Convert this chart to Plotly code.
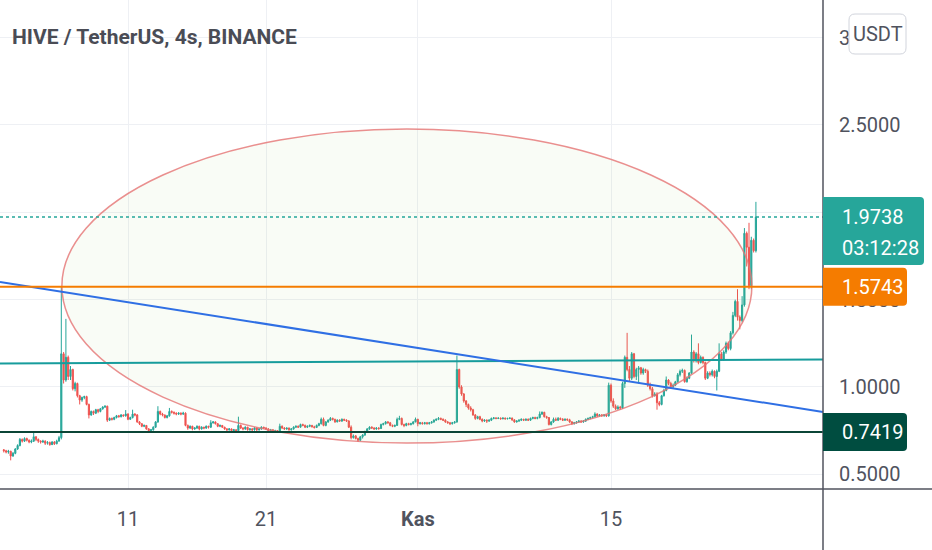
import pandas as pd
import plotly.graph_objects as go

# 4 saatlik mumlar (HIVE/USDT), ilk mum 2 Ekim 00:00
bar_start = "2021-10-02 00:00"
first_open = 0.640

closes = [
    0.635, 0.628, 0.632, 0.605, 0.620, 0.645,  # Eki 2
    0.665, 0.700, 0.690, 0.705, 0.695, 0.685,
    0.690, 0.715, 0.700, 0.690, 0.685, 0.690,
    0.678, 0.682, 0.670, 0.685, 0.675, 0.690,
    0.710, 1.190, 1.040, 1.170, 1.060, 1.100,  # Eki 6
    0.990, 1.020, 0.950, 0.925, 0.940, 0.945,
    0.900, 0.840, 0.860, 0.850, 0.870, 0.860,
    0.875, 0.885, 0.890, 0.810, 0.820, 0.815,
    0.825, 0.835, 0.830, 0.840, 0.835, 0.845,
    0.815, 0.825, 0.845, 0.840, 0.800, 0.790,  # Eki 11
    0.775, 0.780, 0.760, 0.750, 0.755, 0.770,
    0.800, 0.860, 0.845, 0.840, 0.825, 0.835,
    0.860, 0.855, 0.850, 0.845, 0.850, 0.845,
    0.850, 0.780, 0.765, 0.775, 0.760, 0.765,
    0.775, 0.760, 0.770, 0.765, 0.775, 0.770,  # Eki 16
    0.795, 0.800, 0.790, 0.775, 0.780, 0.770,
    0.760, 0.755, 0.760, 0.750, 0.755, 0.750,
    0.780, 0.765, 0.760, 0.770, 0.755, 0.760,
    0.755, 0.765, 0.755, 0.760, 0.770, 0.765,
    0.760, 0.750, 0.755, 0.745, 0.750, 0.745,  # Eki 21
    0.775, 0.765, 0.760, 0.765, 0.755, 0.760,
    0.770, 0.775, 0.770, 0.785, 0.780, 0.770,
    0.775, 0.780, 0.772, 0.768, 0.780, 0.790,
    0.815, 0.780, 0.800, 0.810, 0.820, 0.815,
    0.800, 0.810, 0.805, 0.815, 0.810, 0.805,  # Eki 26
    0.770, 0.710, 0.720, 0.705, 0.695, 0.715,
    0.725, 0.745, 0.760, 0.770, 0.765, 0.760,
    0.765, 0.762, 0.785, 0.790, 0.800, 0.795,
    0.780, 0.775, 0.780, 0.815, 0.820, 0.785,
    0.780, 0.790, 0.785, 0.790, 0.800, 0.815,  # Eki 31
    0.790, 0.795, 0.790, 0.795, 0.790, 0.795,  # Kas 1
    0.800, 0.810, 0.815, 0.820, 0.815, 0.810,
    0.800, 0.795, 0.790, 0.795, 0.800, 1.100,
    1.000, 0.960, 0.920, 0.900, 0.880, 0.870,
    0.840, 0.820, 0.830, 0.815, 0.805, 0.810,  # Kas 5
    0.805, 0.810, 0.820, 0.823, 0.820, 0.822,
    0.818, 0.822, 0.818, 0.820, 0.822, 0.812,
    0.800, 0.805, 0.810, 0.815, 0.810, 0.815,
    0.810, 0.820, 0.825, 0.820, 0.825, 0.845,
    0.855, 0.830, 0.825, 0.785, 0.800, 0.815,  # Kas 10
    0.810, 0.820, 0.815, 0.810, 0.815, 0.812,
    0.800, 0.790, 0.795, 0.800, 0.805, 0.800,
    0.805, 0.815, 0.820, 0.825, 0.830, 0.845,
    0.835, 0.840, 0.835, 0.840, 0.835, 1.010,
    0.920, 0.890, 0.875, 0.885, 0.880, 1.020,  # Kas 15
    1.170, 1.100, 1.050, 1.190, 1.060, 1.100,
    1.110, 1.080, 1.100, 1.090, 1.010, 0.990,
    0.950, 0.960, 0.910, 0.900, 0.950, 0.980,
    1.040, 1.020, 1.000, 1.010, 1.030, 1.070,
    1.090, 1.095, 1.030, 1.050, 1.080, 1.200,  # Kas 20
    1.150, 1.190, 1.140, 1.170, 1.140, 1.050,
    1.080, 1.070, 1.090, 1.060, 1.090, 1.190,
    1.160, 1.200, 1.250, 1.220, 1.310, 1.410,
    1.490, 1.400, 1.380, 1.470, 1.880, 1.800,
    1.580, 1.840, 1.780, 1.9738,               # Kas 25
]

highs = [
    0.645, 0.640, 0.640, 0.635, 0.628, 0.650,
    0.672, 0.708, 0.705, 0.712, 0.710, 0.700,
    0.700, 0.742, 0.718, 0.705, 0.695, 0.698,
    0.695, 0.690, 0.688, 0.690, 0.690, 0.698,
    0.720, 1.575, 1.200, 1.390, 1.180, 1.120,
    1.105, 1.030, 1.025, 0.955, 0.945, 0.950,
    0.950, 0.905, 0.865, 0.865, 0.875, 0.875,
    0.880, 0.890, 0.895, 0.893, 0.825, 0.825,
    0.830, 0.840, 0.840, 0.845, 0.842, 0.868,
    0.850, 0.830, 0.870, 0.850, 0.845, 0.805,
    0.792, 0.785, 0.782, 0.765, 0.760, 0.775,
    0.805, 0.890, 0.865, 0.852, 0.842, 0.840,
    0.880, 0.866, 0.860, 0.855, 0.856, 0.855,
    0.858, 0.855, 0.785, 0.780, 0.778, 0.770,
    0.780, 0.778, 0.775, 0.772, 0.780, 0.778,
    0.810, 0.805, 0.803, 0.792, 0.785, 0.782,
    0.772, 0.765, 0.765, 0.762, 0.760, 0.758,
    0.830, 0.785, 0.770, 0.775, 0.772, 0.765,
    0.765, 0.770, 0.768, 0.765, 0.775, 0.772,
    0.770, 0.765, 0.760, 0.758, 0.755, 0.752,
    0.790, 0.780, 0.770, 0.768, 0.768, 0.765,
    0.775, 0.780, 0.780, 0.790, 0.790, 0.785,
    0.780, 0.785, 0.783, 0.778, 0.785, 0.795,
    0.825, 0.825, 0.805, 0.815, 0.828, 0.825,
    0.818, 0.815, 0.815, 0.820, 0.818, 0.815,
    0.810, 0.780, 0.728, 0.725, 0.710, 0.720,
    0.730, 0.750, 0.765, 0.775, 0.775, 0.770,
    0.770, 0.770, 0.790, 0.795, 0.805, 0.805,
    0.800, 0.785, 0.785, 0.825, 0.835, 0.825,
    0.790, 0.795, 0.795, 0.795, 0.805, 0.825,
    0.818, 0.800, 0.800, 0.800, 0.800, 0.800,
    0.805, 0.815, 0.820, 0.828, 0.825, 0.820,
    0.815, 0.805, 0.800, 0.800, 0.805, 1.180,
    1.105, 1.010, 0.965, 0.925, 0.905, 0.890,
    0.875, 0.845, 0.835, 0.835, 0.820, 0.815,
    0.815, 0.815, 0.825, 0.828, 0.826, 0.826,
    0.825, 0.826, 0.825, 0.824, 0.826, 0.825,
    0.815, 0.810, 0.815, 0.820, 0.818, 0.820,
    0.820, 0.825, 0.830, 0.830, 0.830, 0.860,
    0.860, 0.858, 0.835, 0.828, 0.805, 0.825,
    0.825, 0.828, 0.825, 0.822, 0.820, 0.820,
    0.818, 0.805, 0.800, 0.805, 0.810, 0.810,
    0.810, 0.820, 0.825, 0.830, 0.835, 0.855,
    0.850, 0.845, 0.845, 0.845, 0.845, 1.025,
    1.020, 0.935, 0.900, 0.895, 0.892, 1.030,
    1.180, 1.310, 1.120, 1.200, 1.195, 1.110,
    1.120, 1.115, 1.110, 1.105, 1.100, 1.025,
    1.000, 0.970, 0.970, 0.920, 0.955, 0.990,
    1.060, 1.045, 1.030, 1.020, 1.035, 1.080,
    1.100, 1.105, 1.100, 1.060, 1.085, 1.300,
    1.210, 1.200, 1.250, 1.180, 1.175, 1.145,
    1.090, 1.090, 1.100, 1.095, 1.100, 1.250,
    1.200, 1.210, 1.260, 1.260, 1.320, 1.430,
    1.500, 1.560, 1.410, 1.520, 1.910, 1.890,
    1.940, 1.860, 1.850, 2.060,
]

lows = [
    0.625, 0.620, 0.618, 0.580, 0.600, 0.615,
    0.640, 0.660, 0.682, 0.685, 0.688, 0.678,
    0.678, 0.685, 0.690, 0.680, 0.676, 0.680,
    0.668, 0.670, 0.664, 0.668, 0.668, 0.672,
    0.688, 0.700, 1.020, 1.030, 1.040, 1.040,
    0.980, 0.975, 0.940, 0.900, 0.915, 0.930,
    0.895, 0.820, 0.835, 0.840, 0.845, 0.850,
    0.855, 0.870, 0.880, 0.800, 0.805, 0.808,
    0.810, 0.820, 0.825, 0.826, 0.830, 0.830,
    0.810, 0.812, 0.820, 0.832, 0.795, 0.782,
    0.770, 0.770, 0.755, 0.740, 0.745, 0.750,
    0.765, 0.795, 0.838, 0.832, 0.820, 0.820,
    0.830, 0.848, 0.842, 0.838, 0.840, 0.838,
    0.840, 0.775, 0.755, 0.760, 0.752, 0.755,
    0.760, 0.752, 0.756, 0.758, 0.760, 0.762,
    0.765, 0.790, 0.785, 0.770, 0.770, 0.765,
    0.755, 0.748, 0.750, 0.745, 0.745, 0.737,
    0.745, 0.760, 0.752, 0.755, 0.750, 0.750,
    0.748, 0.750, 0.748, 0.750, 0.755, 0.760,
    0.755, 0.745, 0.745, 0.738, 0.740, 0.737,
    0.740, 0.760, 0.755, 0.755, 0.750, 0.750,
    0.755, 0.765, 0.765, 0.768, 0.775, 0.765,
    0.765, 0.770, 0.768, 0.762, 0.765, 0.775,
    0.785, 0.775, 0.775, 0.795, 0.805, 0.808,
    0.795, 0.798, 0.800, 0.800, 0.805, 0.800,
    0.765, 0.700, 0.705, 0.700, 0.685, 0.690,
    0.705, 0.720, 0.740, 0.755, 0.760, 0.755,
    0.755, 0.755, 0.760, 0.780, 0.785, 0.790,
    0.775, 0.770, 0.770, 0.778, 0.810, 0.780,
    0.770, 0.775, 0.780, 0.780, 0.785, 0.798,
    0.775, 0.785, 0.785, 0.785, 0.785, 0.785,
    0.790, 0.795, 0.805, 0.810, 0.810, 0.805,
    0.795, 0.790, 0.782, 0.785, 0.790, 0.795,
    0.990, 0.950, 0.910, 0.885, 0.870, 0.860,
    0.835, 0.812, 0.815, 0.810, 0.798, 0.800,
    0.794, 0.800, 0.805, 0.815, 0.815, 0.816,
    0.813, 0.815, 0.813, 0.814, 0.816, 0.806,
    0.795, 0.796, 0.800, 0.805, 0.805, 0.806,
    0.805, 0.806, 0.815, 0.815, 0.815, 0.820,
    0.840, 0.825, 0.818, 0.780, 0.780, 0.795,
    0.805, 0.805, 0.810, 0.805, 0.806, 0.806,
    0.795, 0.782, 0.785, 0.790, 0.795, 0.795,
    0.795, 0.800, 0.810, 0.815, 0.820, 0.825,
    0.828, 0.830, 0.830, 0.830, 0.828, 0.830,
    0.910, 0.880, 0.868, 0.870, 0.870, 0.875,
    0.995, 1.090, 1.030, 1.040, 1.050, 1.040,
    1.020, 1.070, 1.070, 1.080, 1.000, 0.980,
    0.940, 0.945, 0.870, 0.890, 0.895, 0.945,
    0.975, 1.010, 0.990, 0.995, 1.005, 1.025,
    1.060, 1.080, 1.025, 1.025, 1.045, 1.075,
    1.140, 1.140, 1.130, 1.135, 1.130, 1.040,
    1.045, 1.060, 1.060, 1.050, 0.980, 1.085,
    1.150, 1.150, 1.190, 1.210, 1.210, 1.300,
    1.400, 1.380, 1.330, 1.370, 1.460, 1.690,
    1.560, 1.560, 1.770, 1.770,
]

# cizimler (TradingView araclari)
last_price = 1.9738
countdown = "03:12:28"
resistance_level = 1.5743
support_level = 0.7419
channel_line = [1.135, 1.157]      # sol uc, sag uc
trend_line = [1.601, 0.857]        # sol uc, sag uc
ellipse_dates = ["2021-10-06 05:00", "2021-11-25 05:00"]
ellipse_prices = [0.679, 2.477]

price_ticks = [0.5, 1.0, 1.5, 2.0, 2.5, 3.0]
price_labels = ["0.5000", "1.0000", "1.5000", "", "2.5000", "3.0000"]  # 2.0000 etiketin altinda kaliyor
date_ticks = ["2021-10-11", "2021-10-21", "2021-11-01", "2021-11-15"]
date_labels = ["11", "21", "<b>Kas</b>", "15"]
view_range = ["2021-10-01 17:23", "2021-11-30 08:41"]
price_range = [0.416, 3.2156]

W, H = 932, 550
AXIS_X = 823          # fiyat ekseni cizgisi (px)
AXIS_Y = 489          # zaman ekseni cizgisi (px)
FONT = "Roboto, sans-serif"
TEXT_GRAY = "#50535e"
GRID = "#eef0f4"
UP, DOWN = "#26a69a", "#ef5350"

opens = [first_open] + closes[:-1]
times = pd.date_range(bar_start, periods=len(closes), freq="4h")

fig = go.Figure(go.Candlestick(
    x=times, open=opens, high=highs, low=lows, close=closes,
    increasing=dict(line=dict(color=UP, width=1), fillcolor=UP),
    decreasing=dict(line=dict(color=DOWN, width=1), fillcolor=DOWN),
    whiskerwidth=0,
    hoverinfo="skip",
))

ax_x = AXIS_X / W


def label_box(price, top, bottom, width, color, r=4):
    # sag kenari yuvarlatilmis fiyat etiketi, piksel olculu
    path = (f"M0,{top} L{width - r},{top} Q{width},{top} {width},{top - r} "
            f"L{width},{bottom + r} Q{width},{bottom} {width - r},{bottom} L0,{bottom} Z")
    return dict(type="path", path=path, xref="paper", yref="y",
                xsizemode="pixel", xanchor=ax_x, ysizemode="pixel", yanchor=price,
                fillcolor=color, line=dict(width=0), layer="above")


shapes = [
    # elips
    dict(type="circle", xref="x", yref="y",
         x0=ellipse_dates[0], x1=ellipse_dates[1],
         y0=ellipse_prices[0], y1=ellipse_prices[1],
         fillcolor="rgba(139,195,74,0.05)",
         line=dict(color="rgba(229,115,115,0.8)", width=1.5), layer="above"),
    # son fiyat noktali cizgi
    dict(type="line", xref="x domain", yref="y", x0=0, x1=1,
         y0=last_price, y1=last_price, line=dict(color=UP, width=1.5, dash="dot"), layer="above"),
    # kanal cizgisi
    dict(type="line", xref="x domain", yref="y", x0=0, x1=1,
         y0=channel_line[0], y1=channel_line[1], line=dict(color="#179c9c", width=2), layer="above"),
    # trend cizgisi
    dict(type="line", xref="x domain", yref="y", x0=0, x1=1,
         y0=trend_line[0], y1=trend_line[1], line=dict(color="#2f6fe4", width=2), layer="above"),
    # yatay seviyeler
    dict(type="line", xref="x domain", yref="y", x0=0, x1=1,
         y0=resistance_level, y1=resistance_level, line=dict(color="#f57c00", width=2), layer="above"),
    dict(type="line", xref="x domain", yref="y", x0=0, x1=1,
         y0=support_level, y1=support_level, line=dict(color="#0b4536", width=2), layer="above"),
    # eksen cizgileri
    dict(type="line", xref="paper", yref="paper", x0=ax_x, x1=ax_x, y0=0, y1=1,
         line=dict(color=TEXT_GRAY, width=1.5), layer="above"),
    dict(type="line", xref="paper", yref="paper", x0=0, x1=1,
         y0=1 - AXIS_Y / H, y1=1 - AXIS_Y / H, line=dict(color=TEXT_GRAY, width=1.5), layer="above"),
    # fiyat etiketleri
    label_box(last_price, 20, -48, 101, UP),
    label_box(resistance_level, 19, -19, 84, "#f57c00"),
    label_box(support_level, 19, -19, 84, "#004d40"),
    # USDT kutusu
    dict(type="path", xref="paper", yref="paper",
         xsizemode="pixel", xanchor=849 / W, ysizemode="pixel", yanchor=1 - 14 / H,
         path="M6,0 L51,0 Q57,0 57,-6 L57,-34 Q57,-40 51,-40 L6,-40 Q0,-40 0,-34 L0,-6 Q0,0 6,0 Z",
         fillcolor="white", line=dict(color="#d1d4dc", width=1), layer="above"),
]

label_font = dict(family=FONT, size=20, color="white")
annotations = [
    dict(text=f"{last_price:.4f}", x=840 / W, xref="paper", y=last_price, yref="y",
         xanchor="left", yanchor="middle", showarrow=False, font=label_font),
    dict(text=countdown, x=840 / W, xref="paper", y=last_price, yref="y", yshift=-31,
         xanchor="left", yanchor="middle", showarrow=False, font=label_font),
    dict(text=f"{resistance_level:.4f}", x=840 / W, xref="paper", y=resistance_level, yref="y",
         xanchor="left", yanchor="middle", showarrow=False, font=label_font),
    dict(text=f"{support_level:.4f}", x=840 / W, xref="paper", y=support_level, yref="y",
         xanchor="left", yanchor="middle", showarrow=False, font=label_font),
    dict(text="USDT", x=877.5 / W, xref="paper", y=1 - 34 / H, yref="paper",
         xanchor="center", yanchor="middle", showarrow=False,
         font=dict(family=FONT, size=20, color=TEXT_GRAY)),
]

fig.update_layout(
    template="none",
    width=W, height=H,
    margin=dict(l=0, r=0, t=0, b=0),
    paper_bgcolor="white", plot_bgcolor="white",
    showlegend=False, hovermode=False,
    title=dict(text="<b>HIVE / TetherUS, 4s, BINANCE</b>", xref="container", yref="container",
               x=12 / W, y=1 - 37 / H, xanchor="left", yanchor="middle",
               font=dict(family=FONT, size=21, color="#4a4c55")),
    shapes=shapes,
    annotations=annotations,
)

fig.update_xaxes(
    domain=[0, ax_x], range=view_range, type="date",
    rangeslider_visible=False, automargin=False,
    tickvals=date_ticks, ticktext=date_labels, ticks="", ticklabelstandoff=16,
    tickfont=dict(family=FONT, size=20, color=TEXT_GRAY),
    showgrid=True, gridcolor=GRID, gridwidth=1, showline=False, zeroline=False,
)
fig.update_yaxes(
    domain=[1 - AXIS_Y / H, 1], range=price_range, side="right", automargin=False,
    tickvals=price_ticks, ticktext=price_labels, ticks="", ticklabelstandoff=15,
    tickfont=dict(family=FONT, size=20, color=TEXT_GRAY),
    showgrid=True, gridcolor=GRID, gridwidth=1, showline=False, zeroline=False,
)

# sayfa kenar boslugunu kaldir ki grafik 932x550 pencereye tam otursun
fig.write_html("out.html", config={"displayModeBar": False},
               post_script="document.body.style.margin='0';")
